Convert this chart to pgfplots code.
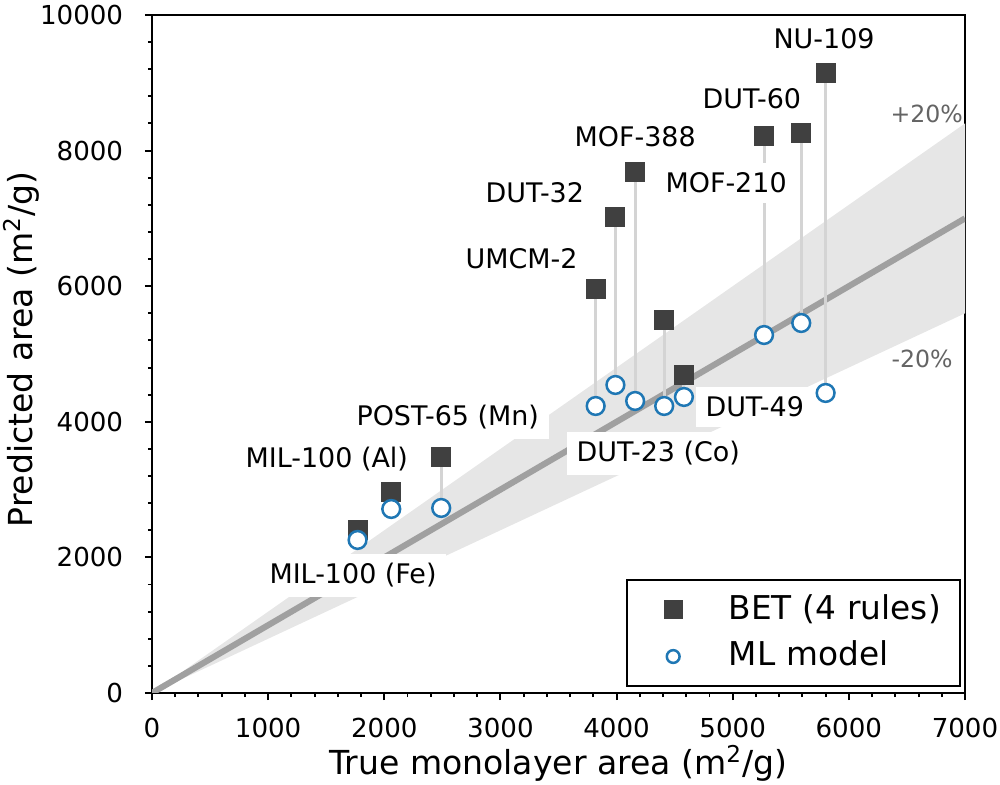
\documentclass[border=0pt]{standalone}
\usepackage{fontspec}
\setmainfont{DejaVu Sans}
\usepackage{pgfplots}
\pgfplotsset{compat=1.18}
\definecolor{sqcol}{RGB}{64,64,64}
\definecolor{circcol}{RGB}{31,119,180}
\definecolor{bandcol}{RGB}{230,230,230}
\definecolor{idcol}{RGB}{160,160,160}
\definecolor{linkcol}{RGB}{212,212,212}
\definecolor{pctcol}{RGB}{100,100,100}
\tikzset{lbl/.style={fill=white, inner sep=3.5pt, xshift=-3.5pt, anchor=base west, text=black, font=\fontsize{9.7}{11}\selectfont}}
\pgfplotsset{myleg/.style={legend image code/.code={\path[draw=none,fill=none] (0pt,-3pt) rectangle (36.6pt,3pt); \draw[##1] plot coordinates {(16.6pt,0pt)};}}}
\begin{document}
\begin{tikzpicture}
\begin{axis}[
  name=ax,
  scale only axis, width=292.68pt, height=244.08pt,
  xmin=0, xmax=7000, ymin=0, ymax=10000,
  xtick={0,1000,...,7000}, ytick={0,2000,...,10000},
  minor x tick num=4, minor y tick num=4,
  scaled ticks=false,
  /pgf/number format/1000 sep={},
  /pgf/number format/assume math mode=true,
  tick align=outside, xtick pos=bottom, ytick pos=left,
  major tick length=2.6pt, minor tick length=1.45pt,
  every tick/.style={black, line width=0.7pt},
  axis line style={line width=0.9pt},
  tick label style={font=\fontsize{9.4}{11}\selectfont},
  xticklabel style={anchor=north, inner sep=0pt, yshift=-6.2pt},
  yticklabel style={anchor=east, inner sep=0pt, xshift=-7.6pt},
  xlabel={True monolayer area (m\textsuperscript{2}/g)},
  ylabel={Predicted area (m\textsuperscript{2}/g)},
  xlabel style={at={(axis description cs:0.5,-0.12)}, anchor=base, font=\fontsize{11.9}{14}\selectfont},
  ylabel style={at={(axis description cs:-0.1464,0.507)}, anchor=base, font=\fontsize{11.9}{14}\selectfont},
  legend style={at={(axis description cs:0.5830,0.1681)}, anchor=north west, draw=black, line width=0.8pt,
    inner xsep=0pt, inner ysep=4.3pt, row sep=4.3pt, font=\fontsize{11.8}{14}\selectfont,
    nodes={inner sep=0pt, text height=9.7pt, text depth=2.9pt, text width=83.3pt, align=left}},
  legend cell align=left,
  myleg,
]
% +-20% band
\addplot[fill=bandcol, draw=none, forget plot] coordinates {(0,0) (7000,8400) (7000,5600) (0,0)};
% identity line
\addplot[idcol, line width=2.2pt, forget plot] coordinates {(0,0) (7000,7000)};
% connecting lines
\addplot[linkcol, line width=1.1pt, forget plot, unbounded coords=jump] coordinates {
 (1770,2400) (1770,2257) (nan,nan)
 (2060,2960) (2060,2714) (nan,nan)
 (2490,3481) (2490,2729) (nan,nan)
 (3820,5959) (3820,4233) (nan,nan)
 (3990,7021) (3990,4543) (nan,nan)
 (4160,7684) (4160,4307) (nan,nan)
 (4410,5501) (4410,4233) (nan,nan)
 (4580,4690) (4580,4366) (nan,nan)
 (5270,8215) (5270,5280) (nan,nan)
 (5590,8260) (5590,5457) (nan,nan)
 (5800,9145) (5800,4425)
};
% labels
\node[lbl] at (axis cs:5347,9499) {NU-109};
\node[lbl] at (axis cs:4736,8628) {DUT-60};
\node[lbl] at (axis cs:3634,8053) {MOF-388};
\node[lbl] at (axis cs:4417,7375) {MOF-210};
\node[lbl] at (axis cs:2867,7227) {DUT-32};
\node[lbl] at (axis cs:2695,6268) {UMCM-2};
\node[lbl] at (axis cs:1756,3938) {POST-65 (Mn)};
\node[lbl] at (axis cs:801,3319) {MIL-100 (Al)};
\node[lbl] at (axis cs:1007,1608) {MIL-100 (Fe)};
\node[lbl] at (axis cs:3651,3407) {DUT-23 (Co)};
\node[lbl] at (axis cs:4761,4071) {DUT-49};
\node[anchor=base west, inner sep=0pt, text=pctcol, font=\fontsize{8.5}{10}\selectfont] at (axis cs:6354,8407) {+20\%};
\node[anchor=base west, inner sep=0pt, text=pctcol, font=\fontsize{8.5}{10}\selectfont] at (axis cs:6363,4794) {-20\%};
% BET
\addplot[only marks, mark=square*, mark size=3.4pt, color=sqcol, mark options={fill=sqcol, draw=sqcol, line width=0pt},
  legend image post style={mark size=3.24pt}]
 coordinates {(1770,2400) (2060,2960) (2490,3481) (3820,5959) (3990,7021) (4160,7684) (4410,5501) (4580,4690) (5270,8215) (5590,8260) (5800,9145)};
\addlegendentry{BET (4 rules)}
% ML
\addplot[only marks, mark=*, mark size=3.2pt, color=circcol, mark options={fill=white, draw=circcol, line width=0.9pt},
  legend image post style={mark size=2.3pt}]
 coordinates {(1770,2257) (2060,2714) (2490,2729) (3820,4233) (3990,4543) (4160,4307) (4410,4233) (4580,4366) (5270,5280) (5590,5457) (5800,4425)};
\addlegendentry{ML model}
\end{axis}
\pgfresetboundingbox
\path[use as bounding box] ([shift={(-54.72pt,-33.12pt)}]ax.south west) rectangle ([shift={(12.6pt,5.4pt)}]ax.north east);
\end{tikzpicture}
\end{document}
